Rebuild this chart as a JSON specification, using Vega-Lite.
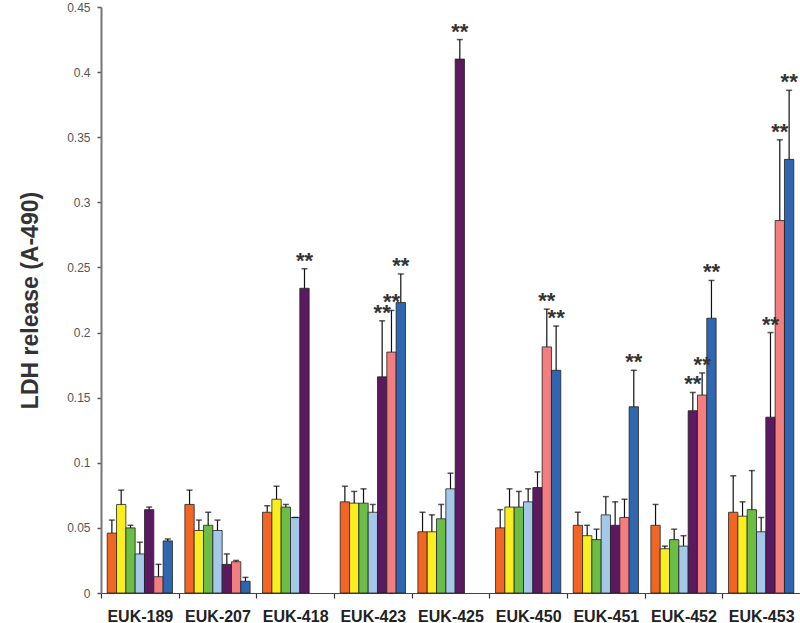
{
  "$schema": "https://vega.github.io/schema/vega-lite/v6.json",
  "width": 699,
  "height": 586,
  "autosize": {"type": "none"},
  "padding": {"left": 101, "top": 7, "right": 0, "bottom": 30},
  "background": "white",
  "config": {"view": {"stroke": null}, "font": "Liberation Sans"},
  "data": {"values": [
    {"group": "EUK-189", "series": "s1", "value": 0.046, "err": 0.056, "sig": false},
    {"group": "EUK-189", "series": "s2", "value": 0.068, "err": 0.079, "sig": false},
    {"group": "EUK-189", "series": "s3", "value": 0.050, "err": 0.052, "sig": false},
    {"group": "EUK-189", "series": "s4", "value": 0.030, "err": 0.039, "sig": false},
    {"group": "EUK-189", "series": "s5", "value": 0.064, "err": 0.066, "sig": false},
    {"group": "EUK-189", "series": "s6", "value": 0.0125, "err": 0.022, "sig": false},
    {"group": "EUK-189", "series": "s7", "value": 0.040, "err": 0.0415, "sig": false},
    {"group": "EUK-207", "series": "s1", "value": 0.068, "err": 0.079, "sig": false},
    {"group": "EUK-207", "series": "s2", "value": 0.048, "err": 0.056, "sig": false},
    {"group": "EUK-207", "series": "s3", "value": 0.052, "err": 0.062, "sig": false},
    {"group": "EUK-207", "series": "s4", "value": 0.048, "err": 0.056, "sig": false},
    {"group": "EUK-207", "series": "s5", "value": 0.022, "err": 0.030, "sig": false},
    {"group": "EUK-207", "series": "s6", "value": 0.024, "err": 0.025, "sig": false},
    {"group": "EUK-207", "series": "s7", "value": 0.009, "err": 0.012, "sig": false},
    {"group": "EUK-418", "series": "s1", "value": 0.062, "err": 0.067, "sig": false},
    {"group": "EUK-418", "series": "s2", "value": 0.072, "err": 0.082, "sig": false},
    {"group": "EUK-418", "series": "s3", "value": 0.066, "err": 0.068, "sig": false},
    {"group": "EUK-418", "series": "s4", "value": 0.058, "err": 0.058, "sig": false},
    {"group": "EUK-418", "series": "s5", "value": 0.234, "err": 0.249, "sig": true},
    {"group": "EUK-423", "series": "s1", "value": 0.070, "err": 0.082, "sig": false},
    {"group": "EUK-423", "series": "s2", "value": 0.069, "err": 0.078, "sig": false},
    {"group": "EUK-423", "series": "s3", "value": 0.069, "err": 0.080, "sig": false},
    {"group": "EUK-423", "series": "s4", "value": 0.062, "err": 0.068, "sig": false},
    {"group": "EUK-423", "series": "s5", "value": 0.166, "err": 0.209, "sig": true},
    {"group": "EUK-423", "series": "s6", "value": 0.185, "err": 0.217, "sig": true},
    {"group": "EUK-423", "series": "s7", "value": 0.223, "err": 0.245, "sig": true},
    {"group": "EUK-425", "series": "s1", "value": 0.047, "err": 0.062, "sig": false},
    {"group": "EUK-425", "series": "s2", "value": 0.047, "err": 0.060, "sig": false},
    {"group": "EUK-425", "series": "s3", "value": 0.057, "err": 0.068, "sig": false},
    {"group": "EUK-425", "series": "s4", "value": 0.080, "err": 0.092, "sig": false},
    {"group": "EUK-425", "series": "s5", "value": 0.410, "err": 0.425, "sig": true},
    {"group": "EUK-450", "series": "s1", "value": 0.050, "err": 0.064, "sig": false},
    {"group": "EUK-450", "series": "s2", "value": 0.066, "err": 0.080, "sig": false},
    {"group": "EUK-450", "series": "s3", "value": 0.066, "err": 0.078, "sig": false},
    {"group": "EUK-450", "series": "s4", "value": 0.070, "err": 0.080, "sig": false},
    {"group": "EUK-450", "series": "s5", "value": 0.081, "err": 0.093, "sig": false},
    {"group": "EUK-450", "series": "s6", "value": 0.189, "err": 0.218, "sig": true},
    {"group": "EUK-450", "series": "s7", "value": 0.171, "err": 0.205, "sig": true},
    {"group": "EUK-451", "series": "s1", "value": 0.052, "err": 0.062, "sig": false},
    {"group": "EUK-451", "series": "s2", "value": 0.044, "err": 0.052, "sig": false},
    {"group": "EUK-451", "series": "s3", "value": 0.041, "err": 0.049, "sig": false},
    {"group": "EUK-451", "series": "s4", "value": 0.060, "err": 0.074, "sig": false},
    {"group": "EUK-451", "series": "s5", "value": 0.052, "err": 0.070, "sig": false},
    {"group": "EUK-451", "series": "s6", "value": 0.058, "err": 0.072, "sig": false},
    {"group": "EUK-451", "series": "s7", "value": 0.143, "err": 0.171, "sig": true},
    {"group": "EUK-452", "series": "s1", "value": 0.052, "err": 0.068, "sig": false},
    {"group": "EUK-452", "series": "s2", "value": 0.034, "err": 0.036, "sig": false},
    {"group": "EUK-452", "series": "s3", "value": 0.041, "err": 0.049, "sig": false},
    {"group": "EUK-452", "series": "s4", "value": 0.036, "err": 0.044, "sig": false},
    {"group": "EUK-452", "series": "s5", "value": 0.140, "err": 0.154, "sig": true},
    {"group": "EUK-452", "series": "s6", "value": 0.152, "err": 0.169, "sig": true},
    {"group": "EUK-452", "series": "s7", "value": 0.211, "err": 0.240, "sig": true},
    {"group": "EUK-453", "series": "s1", "value": 0.062, "err": 0.090, "sig": false},
    {"group": "EUK-453", "series": "s2", "value": 0.059, "err": 0.070, "sig": false},
    {"group": "EUK-453", "series": "s3", "value": 0.064, "err": 0.094, "sig": false},
    {"group": "EUK-453", "series": "s4", "value": 0.047, "err": 0.058, "sig": false},
    {"group": "EUK-453", "series": "s5", "value": 0.135, "err": 0.200, "sig": true},
    {"group": "EUK-453", "series": "s6", "value": 0.286, "err": 0.348, "sig": true},
    {"group": "EUK-453", "series": "s7", "value": 0.333, "err": 0.386, "sig": true}
  ]},
  "encoding": {
    "x": {
      "field": "group", "type": "nominal", "sort": null,
      "scale": {"paddingInner": 0.16, "paddingOuter": 0.08},
      "axis": {
        "title": null, "labelAngle": 0, "bandPosition": 0,
        "tickOffset": -6.21, "labelOffset": 6.21,
        "labelFont": "Liberation Sans", "labelFontSize": 16, "labelFontWeight": "bold",
        "labelColor": "#222", "labelPadding": 10,
        "tickSize": 5, "tickColor": "#333", "tickWidth": 1.2,
        "domainColor": "#444", "domainWidth": 1.2
      }
    },
    "xOffset": {
      "field": "series", "type": "nominal",
      "sort": ["s1", "s2", "s3", "s4", "s5", "s6", "s7"],
      "scale": {"paddingInner": 0, "paddingOuter": 0}
    }
  },
  "layer": [
    {
      "mark": {"type": "bar", "stroke": "#222", "strokeWidth": 0.8},
      "encoding": {
        "y": {
          "field": "value", "type": "quantitative",
          "scale": {"domain": [0, 0.45], "nice": false},
          "axis": {
            "title": "LDH release (A-490)",
            "values": [0, 0.05, 0.1, 0.15, 0.2, 0.25, 0.3, 0.35, 0.4, 0.45],
            "format": "~g", "grid": false,
            "labelFontSize": 12, "labelColor": "#555", "labelPadding": 7,
            "tickSize": 4, "tickColor": "#555", "tickWidth": 1.5,
            "domainColor": "#777", "domainWidth": 2,
            "titleFontSize": 23, "titleFontWeight": "bold", "titleColor": "#333",
            "titleX": -71, "titleY": 293, "titleAngle": -90,
            "titleAlign": "center", "titleBaseline": "middle"
          }
        },
        "color": {
          "field": "series", "type": "nominal",
          "scale": {
            "domain": ["s1", "s2", "s3", "s4", "s5", "s6", "s7"],
            "range": ["#F26522", "#FAEE1E", "#6CBD45", "#A4C8EA", "#5B1A5F", "#F27E80", "#2E66B1"]
          },
          "legend": null
        }
      }
    },
    {
      "mark": {"type": "rule", "color": "#111", "strokeWidth": 1.2},
      "encoding": {
        "y": {"field": "value", "type": "quantitative"},
        "y2": {"field": "err"}
      }
    },
    {
      "mark": {"type": "tick", "color": "#111", "thickness": 1.5, "size": 6},
      "encoding": {
        "y": {"field": "err", "type": "quantitative"}
      }
    },
    {
      "transform": [{"filter": "datum.sig"}],
      "mark": {"type": "text", "text": "**", "fontSize": 22, "fontWeight": "bold", "color": "#333", "align": "center", "baseline": "alphabetic", "dy": -1},
      "encoding": {
        "y": {"field": "err", "type": "quantitative"}
      }
    }
  ]
}
